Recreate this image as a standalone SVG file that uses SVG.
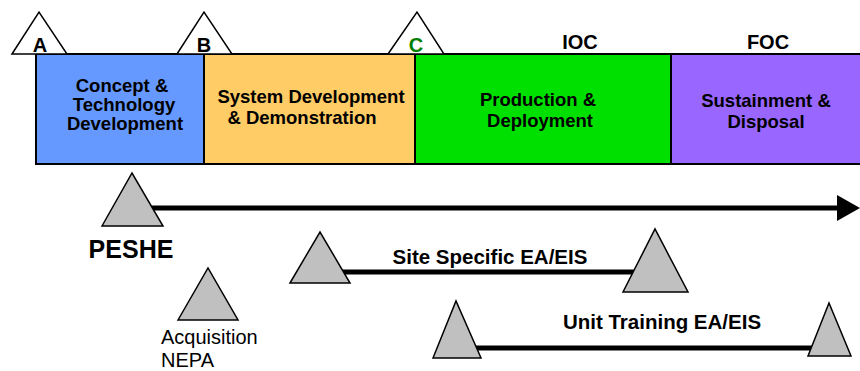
<svg xmlns="http://www.w3.org/2000/svg" width="860" height="371" viewBox="0 0 860 371">
  <style>
    .phase { stroke: #000; stroke-width: 2; }
    .ptxt { font-family: "Liberation Sans", Arial, sans-serif; font-weight: bold; font-size: 18.5px; fill: #000; text-anchor: middle; }
    .ms { font-family: "Liberation Sans", Arial, sans-serif; font-weight: bold; font-size: 20px; fill: #000; text-anchor: middle; }
    .tri-w { fill: #fff; stroke: #000; stroke-width: 1.5; stroke-linejoin: miter; }
    .tri-g { fill: #c0c0c0; stroke: #000; stroke-width: 1.5; stroke-linejoin: miter; }
    .bar { stroke: #000; stroke-width: 5; fill: none; }
    .lbl { font-family: "Liberation Sans", Arial, sans-serif; font-weight: bold; font-size: 20.5px; fill: #000; text-anchor: middle; }
    .reg { font-family: "Liberation Sans", Arial, sans-serif; font-size: 20px; fill: #000; }
  </style>

  <!-- acquisition phases -->
  <g id="phase-concept">
    <rect class="phase" x="36" y="54" width="168" height="110" fill="#6699ff"/>
    <text class="ptxt" x="122" y="92">Concept &amp;</text>
    <text class="ptxt" x="124" y="111">Technology</text>
    <text class="ptxt" x="125" y="130">Development</text>
  </g>
  <g id="phase-sdd">
    <rect class="phase" x="204" y="54" width="211" height="110" fill="#ffcc66"/>
    <text class="ptxt" x="311" y="103">System Development</text>
    <text class="ptxt" x="302" y="124">&amp; Demonstration</text>
  </g>
  <g id="phase-pd">
    <rect class="phase" x="415" y="54" width="256" height="110" fill="#00e000"/>
    <text class="ptxt" x="538" y="106">Production &amp;</text>
    <text class="ptxt" x="540" y="127">Deployment</text>
  </g>
  <g id="phase-sd">
    <rect class="phase" x="671" y="54" width="192" height="110" fill="#9966ff"/>
    <text class="ptxt" x="766" y="107">Sustainment &amp;</text>
    <text class="ptxt" x="766" y="128">Disposal</text>
  </g>

  <!-- milestones -->
  <g id="milestone-a">
    <polygon class="tri-w" points="12,54 39,12 67,54"/>
    <text class="ms" x="40" y="52">A</text>
  </g>
  <g id="milestone-b">
    <polygon class="tri-w" points="177,54 204,12 232,54"/>
    <text class="ms" x="204" y="52">B</text>
  </g>
  <g id="milestone-c">
    <polygon class="tri-w" points="388,54 417,12 444,54"/>
    <text class="ms" x="416" y="52" style="fill:#008000">C</text>
  </g>
  <g id="milestone-ioc">
    <text class="ms" x="580" y="49">IOC</text>
  </g>
  <g id="milestone-foc">
    <text class="ms" x="768" y="49">FOC</text>
  </g>

  <!-- connectors -->
  <g id="connectors">
    <line class="bar" x1="150" y1="208" x2="840" y2="208"/>
    <polygon points="837,195 860,208 837,221" fill="#000"/>
    <line class="bar" x1="340" y1="272" x2="640" y2="272"/>
    <line class="bar" x1="472" y1="348" x2="815" y2="348"/>
  </g>

  <!-- environmental documents -->
  <g id="peshe">
    <polygon class="tri-g" points="102,226 132,173 163,226"/>
    <text class="lbl" x="131" y="258" style="font-size:25px">PESHE</text>
  </g>
  <g id="acq-nepa">
    <polygon class="tri-g" points="178,320 208,268 238,320"/>
    <text class="reg" x="161" y="344">Acquisition</text>
    <text class="reg" x="161" y="367">NEPA</text>
  </g>
  <g id="site-start">
    <polygon class="tri-g" points="290,283 320,232 350,283"/>
  </g>
  <g id="site-end">
    <polygon class="tri-g" points="623,292 655,229 688,292"/>
  </g>
  <g id="site-label">
    <text class="lbl" x="490" y="264">Site Specific EA/EIS</text>
  </g>
  <g id="unit-start">
    <polygon class="tri-g" points="433,358 456,301 481,358"/>
  </g>
  <g id="unit-end">
    <polygon class="tri-g" points="808,356 829,303 851,356"/>
  </g>
  <g id="unit-label">
    <text class="lbl" x="662" y="329">Unit Training EA/EIS</text>
  </g>
</svg>
